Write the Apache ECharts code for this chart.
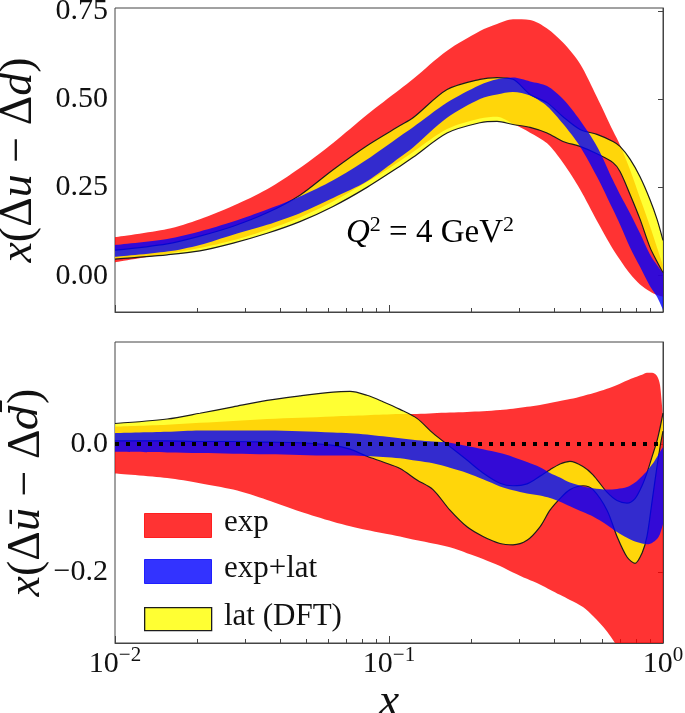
<!DOCTYPE html>
<html><head><meta charset="utf-8">
<script src="https://cdn.jsdelivr.net/npm/echarts@6/dist/echarts.min.js"></script>
<style>html,body{margin:0;padding:0;background:#fff}#c{width:685px;height:713px}</style>
</head><body><div id="c"></div>
<script>
// ---------- top panel: x(Δu − Δd) ----------
const xTop = [0.0100, 0.0155, 0.0204, 0.0270, 0.0359, 0.0473, 0.0625, 0.0831, 0.1097, 0.1224, 0.1629, 0.2148, 0.2479, 0.2835, 0.3272, 0.3775, 0.4315, 0.4978, 0.5743, 0.6569, 0.6967, 0.7580, 0.8244, 0.8966, 0.9508, 1.0000];
const expHiTop = [0.109, 0.132, 0.160, 0.198, 0.245, 0.305, 0.376, 0.456, 0.528, 0.557, 0.637, 0.693, 0.713, 0.726, 0.724, 0.700, 0.660, 0.600, 0.505, 0.410, 0.370, 0.300, 0.220, 0.140, 0.080, 0.030];
const expLoTop = [0.038, 0.062, 0.078, 0.100, 0.130, 0.165, 0.210, 0.265, 0.325, 0.350, 0.415, 0.445, 0.450, 0.430, 0.405, 0.375, 0.320, 0.245, 0.155, 0.075, 0.045, 0.005, -0.025, -0.045, -0.055, -0.060];
const latHiTop = [0.072, 0.090, 0.112, 0.140, 0.178, 0.228, 0.300, 0.368, 0.425, 0.447, 0.527, 0.556, 0.561, 0.556, 0.513, 0.490, 0.450, 0.414, 0.400, 0.380, 0.366, 0.330, 0.280, 0.215, 0.160, 0.100];
const latLoTop = [0.047, 0.059, 0.070, 0.092, 0.120, 0.153, 0.196, 0.250, 0.310, 0.335, 0.404, 0.433, 0.437, 0.428, 0.420, 0.404, 0.380, 0.366, 0.345, 0.320, 0.295, 0.230, 0.160, 0.080, 0.040, 0.008];
const combHiTop = [0.087, 0.104, 0.125, 0.153, 0.187, 0.224, 0.270, 0.329, 0.395, 0.420, 0.490, 0.540, 0.556, 0.561, 0.550, 0.537, 0.500, 0.440, 0.366, 0.270, 0.230, 0.177, 0.120, 0.060, 0.030, 0.007];
const combLoTop = [0.053, 0.068, 0.087, 0.116, 0.144, 0.177, 0.220, 0.267, 0.335, 0.363, 0.447, 0.500, 0.513, 0.520, 0.510, 0.480, 0.430, 0.366, 0.280, 0.187, 0.145, 0.080, 0.025, -0.030, -0.060, -0.097];

// ---------- bottom panel: x(Δū − Δd̄) ----------
const xBot = [0.0100, 0.0155, 0.0204, 0.0270, 0.0359, 0.0473, 0.0625, 0.0721, 0.0831, 0.0951, 0.1097, 0.1265, 0.1447, 0.1669, 0.1926, 0.2203, 0.2542, 0.2835, 0.3189, 0.3557, 0.3869, 0.4208, 0.4577, 0.5105, 0.5553, 0.6246, 0.6795, 0.7390, 0.7905, 0.8383, 0.8741, 0.9118, 0.9508, 0.9752, 1.0000];
const expHiBot = [0.027, 0.030, 0.033, 0.036, 0.039, 0.041, 0.043, 0.044, 0.045, 0.046, 0.047, 0.047, 0.048, 0.049, 0.050, 0.051, 0.053, 0.055, 0.058, 0.061, 0.064, 0.067, 0.070, 0.075, 0.079, 0.086, 0.092, 0.099, 0.104, 0.108, 0.111, 0.111, 0.106, 0.092, 0.040];
const expLoBot = [-0.046, -0.053, -0.061, -0.071, -0.087, -0.105, -0.121, -0.128, -0.134, -0.139, -0.144, -0.150, -0.155, -0.161, -0.170, -0.179, -0.190, -0.200, -0.210, -0.219, -0.227, -0.235, -0.243, -0.254, -0.268, -0.292, -0.315, -0.340, -0.370, -0.400, -0.430, -0.460, -0.500, -0.520, -0.550];
const latHiBot = [0.032, 0.039, 0.048, 0.058, 0.068, 0.075, 0.081, 0.082, 0.076, 0.066, 0.054, 0.040, 0.017, -0.004, -0.025, -0.045, -0.061, -0.065, -0.062, -0.050, -0.040, -0.031, -0.027, -0.035, -0.048, -0.075, -0.088, -0.092, -0.085, -0.065, -0.045, -0.020, 0.005, 0.025, 0.048];
const latLoBot = [0.005, 0.005, 0.004, 0.004, 0.003, 0.002, -0.002, -0.008, -0.019, -0.028, -0.038, -0.056, -0.071, -0.103, -0.129, -0.144, -0.155, -0.157, -0.150, -0.129, -0.103, -0.085, -0.071, -0.065, -0.071, -0.103, -0.144, -0.176, -0.186, -0.170, -0.144, -0.090, -0.035, -0.005, 0.020];
const combHiBot = [0.017, 0.019, 0.021, 0.021, 0.021, 0.020, 0.018, 0.017, 0.015, 0.012, 0.009, 0.006, 0.004, 0.002, -0.003, -0.008, -0.014, -0.020, -0.028, -0.036, -0.045, -0.052, -0.060, -0.066, -0.069, -0.071, -0.070, -0.067, -0.060, -0.050, -0.042, -0.032, -0.020, -0.012, -0.005];
const combLoBot = [-0.012, -0.013, -0.014, -0.015, -0.016, -0.017, -0.018, -0.018, -0.019, -0.020, -0.022, -0.026, -0.030, -0.037, -0.045, -0.055, -0.066, -0.072, -0.077, -0.080, -0.084, -0.090, -0.097, -0.106, -0.113, -0.126, -0.137, -0.146, -0.152, -0.155, -0.156, -0.154, -0.148, -0.140, -0.125];

const zeroLineX = [0.01, 0.96];
const zeroLineY = [0, 0];

// ticks / labels
const xMajorTicks = [0.01, 0.1, 1];
const xMinorTicks = [0.02, 0.03, 0.04, 0.05, 0.06, 0.07, 0.08, 0.09, 0.2, 0.3, 0.4, 0.5, 0.6, 0.7, 0.8, 0.9];
const yTicksTop = [0, 0.25, 0.5, 0.75];
const yTicksBot = [-0.2, 0.0];
const legendNames = ['exp', 'exp+lat', 'lat (DFT)'];

const FONT = 'Liberation Serif';
const INK = '#111';
const RED = 'rgba(255,0,0,0.8)';
const BLUE = 'rgba(0,0,255,0.8)';
const YEL = 'rgba(255,255,0,0.8)';
const EDGE = '#1c1c1c';

// Band = two stacked lines; y is put in column 0 so the stack runs along y.
function band(id, xi, yi, xs, lo, hi, color, z, edge) {
  const base = {type: 'line', xAxisIndex: xi, yAxisIndex: yi, stack: id, stackStrategy: 'all',
    encode: {x: 1, y: 0}, symbol: 'none', smooth: 0.3, silent: true, animation: false};
  const ls = edge ? {color: EDGE, width: 1.2} : {width: 0, opacity: 0};
  return [
    Object.assign({}, base, {name: id + '_lo', z: edge ? z + 1 : z, lineStyle: ls,
      data: xs.map((x, i) => [lo[i], x])}),
    Object.assign({}, base, {name: id, z: z, lineStyle: ls, areaStyle: {color: color, opacity: 1},
      data: xs.map((x, i) => [hi[i] - lo[i], x])})
  ];
}

const lg = v => Math.log10(v);
const supRich = {
  b: {fontFamily: FONT, fontSize: 30, color: INK, lineHeight: 34, verticalAlign: 'bottom'},
  s: {fontFamily: FONT, fontSize: 21, color: INK, lineHeight: 20, verticalAlign: 'top'}
};
const yRich = {a: {fontFamily: FONT, fontSize: 30, color: INK}};
const titleRich = {
  i: {fontFamily: FONT, fontStyle: 'italic', fontSize: 46, color: INK},
  n: {fontFamily: FONT, fontSize: 46, color: INK},
  dd: {fontFamily: 'DejaVu Serif', fontStyle: 'italic', fontSize: 40, color: INK}
};
const titleStyle = {fontFamily: FONT, fontSize: 46, color: INK, rich: titleRich};

function xAxesFor(g, withLabels) {
  return [
    {type: 'log', gridIndex: g, logBase: 10, min: 0.01, max: 1,
      axisLine: {show: false}, axisTick: {show: false}, axisLabel: {show: false}, splitLine: {show: false}},
    {type: 'value', gridIndex: g, min: -2, max: 0, position: 'bottom',
      axisLine: {show: true, onZero: false, lineStyle: {color: '#444', width: 1}},
      axisTick: {show: true, inside: true, length: 7, customValues: xMajorTicks.map(lg), lineStyle: {color: '#444'}},
      axisLabel: withLabels ? {show: true, margin: 2, customValues: xMajorTicks.map(lg), rich: supRich,
        formatter: v => '{b|10}{s|' + (Math.round(v) === 0 ? '0' : '\u2212' + Math.round(-v)) + '}'} : {show: false},
      splitLine: {show: false},
      name: withLabels ? '{i|x}' : '', nameLocation: 'middle', nameGap: 22,
      nameTextStyle: titleStyle},
    {type: 'value', gridIndex: g, min: -2, max: 0, position: 'bottom',
      axisLine: {show: false, onZero: false},
      axisTick: {show: true, inside: true, length: 4, customValues: xMinorTicks.map(lg), lineStyle: {color: '#444'}},
      axisLabel: {show: false}, splitLine: {show: false}}
  ];
}

const option = {
  animation: false,
  backgroundColor: '#fff',
  textStyle: {fontFamily: FONT},
  grid: [
    {left: 115, top: 8, width: 548, height: 304, containLabel: false, outerBoundsMode: 'none',
      show: true, borderColor: '#444', borderWidth: 1, backgroundColor: 'transparent'},
    {left: 115, top: 342, width: 548, height: 301, containLabel: false, outerBoundsMode: 'none',
      show: true, borderColor: '#444', borderWidth: 1, backgroundColor: 'transparent'}
  ],
  xAxis: xAxesFor(0, false).concat(xAxesFor(1, true)),
  yAxis: [
    {type: 'value', gridIndex: 0, min: -0.103, max: 0.758,
      axisLine: {show: true, lineStyle: {color: '#444'}},
      axisTick: {show: true, length: 5, customValues: yTicksTop, lineStyle: {color: '#444'}},
      axisLabel: {customValues: yTicksTop, margin: 7, rich: yRich, formatter: v => '{a|' + v.toFixed(2) + '}'},
      splitLine: {show: false},
      name: '{i|x}({n|\u0394}{i|u} \u2212 {n|\u0394}{i|d})', nameLocation: 'middle', nameGap: 73, nameRotate: 90,
      nameMoveOverlap: false,
      nameTextStyle: titleStyle},
    {type: 'value', gridIndex: 1, min: -0.31, max: 0.159,
      axisLine: {show: true, lineStyle: {color: '#444'}},
      axisTick: {show: true, length: 5, customValues: yTicksBot, lineStyle: {color: '#444'}},
      axisLabel: {customValues: yTicksBot, margin: 7, rich: yRich,
        formatter: v => '{a|' + (v < 0 ? '\u2212' : '') + Math.abs(v).toFixed(1) + '}'},
      splitLine: {show: false},
      name: '{i|x}({n|\u0394}{i|\u016B} \u2212 {n|\u0394}{dd|d\u0304})', nameLocation: 'middle', nameGap: 65, nameRotate: 90,
      nameMoveOverlap: false,
      nameTextStyle: titleStyle}
  ],
  series: [].concat(
    band('exp', 0, 0, xTop, expLoTop, expHiTop, RED, 2, false),
    band('lat (DFT)', 0, 0, xTop, latLoTop, latHiTop, YEL, 3, true),
    band('exp+lat', 0, 0, xTop, combLoTop, combHiTop, BLUE, 6, false),
    band('exp ', 3, 1, xBot, expLoBot, expHiBot, RED, 2, false),
    band('lat (DFT) ', 3, 1, xBot, latLoBot, latHiBot, YEL, 3, true),
    band('exp+lat ', 3, 1, xBot, combLoBot, combHiBot, BLUE, 6, false),
    [{type: 'line', name: 'zero', xAxisIndex: 3, yAxisIndex: 1, symbol: 'none', silent: true, z: 8,
      data: zeroLineX.map((x, i) => [x, zeroLineY[i]]),
      lineStyle: {color: '#000', width: 4, type: [4, 7], cap: 'butt'}}]
  ),
  graphic: [
    {type: 'text', left: 346, top: 214, z: 20, style: {
      text: '{i|Q}{s|2}{n| = 4 GeV}{s|2}', rich: {
        i: {fontFamily: FONT, fontStyle: 'italic', fontSize: 33, color: INK, lineHeight: 36, verticalAlign: 'bottom'},
        n: {fontFamily: FONT, fontSize: 33, color: INK, lineHeight: 36, verticalAlign: 'bottom'},
        s: {fontFamily: FONT, fontSize: 22, color: INK, lineHeight: 22, verticalAlign: 'top'}
      }}},
    {type: 'rect', left: 144, top: 513, z: 20, shape: {width: 67, height: 24}, style: {fill: RED, stroke: RED, lineWidth: 1}},
    {type: 'rect', left: 144, top: 559, z: 20, shape: {width: 67, height: 24}, style: {fill: BLUE, stroke: BLUE, lineWidth: 1}},
    {type: 'rect', left: 144, top: 607, z: 20, shape: {width: 67, height: 23}, style: {fill: YEL, stroke: EDGE, lineWidth: 1.3}},
    {type: 'text', left: 224, top: 507, z: 20, style: {text: legendNames[0], fontFamily: FONT, fontSize: 31, fill: INK}},
    {type: 'text', left: 224, top: 553, z: 20, style: {text: legendNames[1], fontFamily: FONT, fontSize: 31, fill: INK}},
    {type: 'text', left: 224, top: 601, z: 20, style: {text: legendNames[2], fontFamily: FONT, fontSize: 31, fill: INK}}
  ]
};

const chart = echarts.init(document.getElementById('c'), null, {renderer: 'canvas'});
chart.setOption(option);
</script>
</body></html>
